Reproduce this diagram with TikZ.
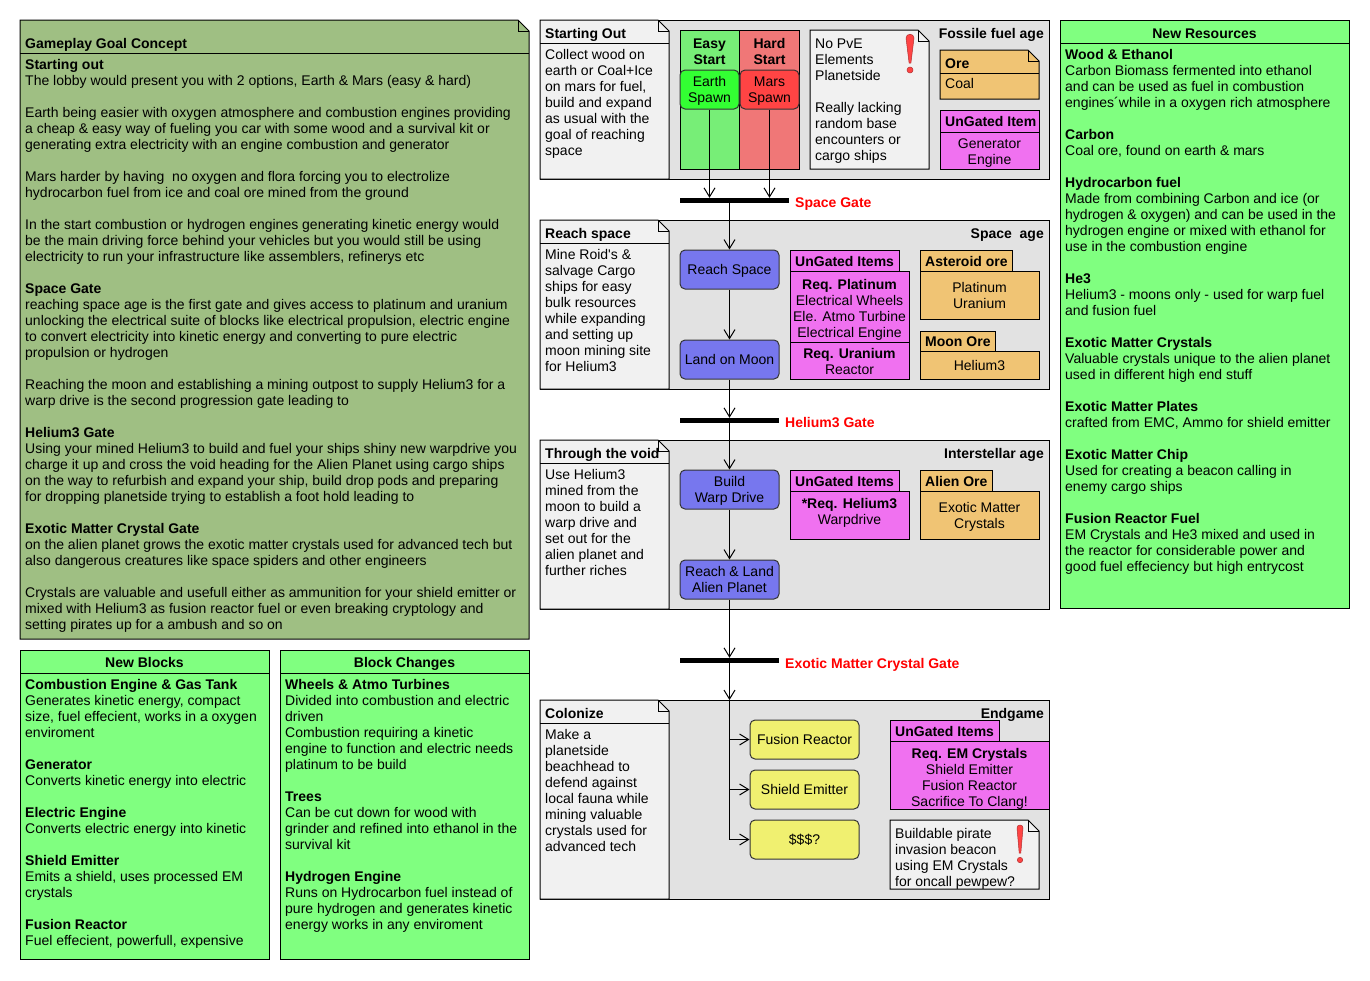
\documentclass[tikz,border=0pt]{standalone}
\usepackage{tikz}
\usepackage{xcolor}
\usepackage{fontspec}
\setmainfont{Liberation Sans}
\usetikzlibrary{arrows.meta}
\definecolor{sage}{HTML}{9FBF83}
\definecolor{mint}{HTML}{80FF80}
\definecolor{lanegray}{HTML}{E2E2E2}
\definecolor{notegray}{HTML}{F1F1F1}
\definecolor{easygreen}{HTML}{77EE77}
\definecolor{spawngreen}{HTML}{33FF33}
\definecolor{hardred}{HTML}{F07777}
\definecolor{spawnred}{HTML}{FF4444}
\definecolor{actblue}{HTML}{7777EE}
\definecolor{itempink}{HTML}{F071F0}
\definecolor{oreorange}{HTML}{F0C474}
\definecolor{endyellow}{HTML}{F0F070}
\definecolor{gatered}{HTML}{FF0000}
\definecolor{bangred}{HTML}{FF4444}
\newcommand{\txtblock}[2][l]{\begin{tabular}[t]{@{}#1@{}}#2\end{tabular}}
\begin{document}
\begin{tikzpicture}[x=1pt,y=-1pt,
  box/.style={draw,line width=1pt},
  act/.style={draw=black!80,line width=1pt,rounded corners=5pt,align=center,minimum width=99pt,minimum height=39pt,text depth=0pt},
  flow/.style={line width=1pt,-{Straight Barb[length=9pt,width=11pt]}},
  gate/.style={fill=black,minimum width=99pt,minimum height=5pt},
  gatelabel/.style={anchor=base west,text=gatered,font=\fontsize{14}{16}\selectfont\bfseries},
  txt/.style={anchor=base west},
  bang/.style={fill=bangred,draw=bangred!70!black,line width=0.5pt} ]
    \tikzstyle{every node}+=[inner sep=0pt,font=\fontsize{14}{16}\selectfont]
    \fill [white] (0,0) rectangle (1370,980);
    \useasboundingbox (0,0) rectangle (1370,980);
    \draw [box,fill=sage] (20,20) -- (518,20) -- (529,31) -- (529,639) -- (20,639) -- cycle;
    \draw [box] (518,20) -- (518,31) -- (529,31);
    \draw [box] (20,53) -- (529,53);
    \node [txt] (gptitle) at (25,48) {\textbf{Gameplay Goal Concept}};
    \node [txt] (gpbody) at (25,69) {\txtblock{\textbf{Starting out}\\
      The lobby would present you with 2 options, Earth \& Mars (easy \& hard)\\
      \\
      Earth being easier with oxygen atmosphere and combustion engines providing\\
      a cheap \& easy way of fueling you car with some wood and a survival kit or\\
      generating extra electricity with an engine combustion and generator\\
      \\
      Mars harder by having\ \ no oxygen and flora forcing you to electrolize\\
      hydrocarbon fuel from ice and coal ore mined from the ground\\
      \\
      In the start combustion or hydrogen engines generating kinetic energy would\\
      be the main driving force behind your vehicles but you would still be using\\
      electricity to run your infrastructure like assemblers, refinerys etc\\
      \\
      \textbf{Space Gate}\\
      reaching space age is the first gate and gives access to platinum and uranium\\
      unlocking the electrical suite of blocks like electrical propulsion, electric engine\\
      to convert electricity into kinetic energy and converting to pure electric\\
      propulsion or hydrogen\\
      \\
      Reaching the moon and establishing a mining outpost to supply Helium3 for a\\
      warp drive is the second progression gate leading to\\
      \\
      \textbf{Helium3 Gate}\\
      Using your mined Helium3 to build and fuel your ships shiny new warpdrive you\\
      charge it up and cross the void heading for the Alien Planet using cargo ships\\
      on the way to refurbish and expand your ship, build drop pods and preparing\\
      for dropping planetside trying to establish a foot hold leading to\\
      \\
      \textbf{Exotic Matter Crystal Gate}\\
      on the alien planet grows the exotic matter crystals used for advanced tech but\\
      also dangerous creatures like space spiders and other engineers\\
      \\
      Crystals are valuable and usefull either as ammunition for your shield emitter or\\
      mixed with Helium3 as fusion reactor fuel or even breaking cryptology and\\
      setting pirates up for a ambush and so on}};
    \draw [box,fill=mint] (20,650) rectangle (269,959);
    \draw [box] (20,673) -- (269,673);
    \node [anchor=base] (nbtitle) at (144.5,667) {\textbf{New Blocks}};
    \node [txt] (nbbody) at (25,689) {\txtblock{\textbf{Combustion Engine \& Gas Tank}\\
      Generates kinetic energy, compact\\
      size, fuel effecient, works in a oxygen\\
      enviroment\\
      \\
      \textbf{Generator}\\
      Converts kinetic energy into electric\\
      \\
      \textbf{Electric Engine}\\
      Converts electric energy into kinetic\\
      \\
      \textbf{Shield Emitter}\\
      Emits a shield, uses processed EM\\
      crystals\\
      \\
      \textbf{Fusion Reactor}\\
      Fuel effecient, powerfull, expensive}};
    \draw [box,fill=mint] (280,650) rectangle (529,959);
    \draw [box] (280,673) -- (529,673);
    \node [anchor=base] (bctitle) at (404.5,667) {\textbf{Block Changes}};
    \node [txt] (bcbody) at (285,689) {\txtblock{\textbf{Wheels \& Atmo Turbines}\\
      Divided into combustion and electric\\
      driven\\
      Combustion requiring a kinetic\\
      engine to function and electric needs\\
      platinum to be build\\
      \\
      \textbf{Trees}\\
      Can be cut down for wood with\\
      grinder and refined into ethanol in the\\
      survival kit\\
      \\
      \textbf{Hydrogen Engine}\\
      Runs on Hydrocarbon fuel instead of\\
      pure hydrogen and generates kinetic\\
      energy works in any enviroment}};
    \draw [box,fill=mint] (1060,20) rectangle (1349,608);
    \draw [box] (1060,43) -- (1349,43);
    \node [anchor=base] (nrtitle) at (1204.5,38) {\textbf{New Resources}};
    \node [txt] (nrbody) at (1065,59) {\txtblock{\textbf{Wood \& Ethanol}\\
      Carbon Biomass fermented into ethanol\\
      and can be used as fuel in combustion\\
      engines´while in a oxygen rich atmosphere\\
      \\
      \textbf{Carbon}\\
      Coal ore, found on earth \& mars\\
      \\
      \textbf{Hydrocarbon fuel}\\
      Made from combining Carbon and ice (or\\
      hydrogen \& oxygen) and can be used in the\\
      hydrogen engine or mixed with ethanol for\\
      use in the combustion engine\\
      \\
      \textbf{He3}\\
      Helium3 - moons only - used for warp fuel\\
      and fusion fuel\\
      \\
      \textbf{Exotic Matter Crystals}\\
      Valuable crystals unique to the alien planet\\
      used in different high end stuff\\
      \\
      \textbf{Exotic Matter Plates}\\
      crafted from EMC, Ammo for shield emitter\\
      \\
      \textbf{Exotic Matter Chip}\\
      Used for creating a beacon calling in\\
      enemy cargo ships\\
      \\
      \textbf{Fusion Reactor Fuel}\\
      EM Crystals and He3 mixed and used in\\
      the reactor for considerable power and\\
      good fuel effeciency but high entrycost}};
    \draw [box,fill=lanegray] (540,20) rectangle (1049,179);
    \node [anchor=base east] (lane1) at (1044,38) {\textbf{Fossile fuel age}};
    \draw [box,fill=notegray] (540,20) -- (658,20) -- (669,31) -- (669,179) -- (540,179) -- cycle;
    \draw [box] (658,20) -- (658,31) -- (669,31);
    \draw [box] (540,43) -- (669,43);
    \node [txt] (n1title) at (545,38) {\textbf{Starting Out}};
    \node [txt] (n1body) at (545,59) {\txtblock{Collect wood on\\earth or Coal+Ice\\on mars for fuel,\\build and expand\\as usual with the\\goal of reaching\\space}};
    \draw [box,fill=easygreen] (680,30) rectangle (739,169);
    \draw [box,fill=hardred] (739,30) rectangle (799,169);
    \node [anchor=base] (easy) at (709.5,48) {\txtblock[c]{\textbf{Easy}\\\textbf{Start}}};
    \node [anchor=base] (hard) at (769.5,48) {\txtblock[c]{\textbf{Hard}\\\textbf{Start}}};
    \node [act,fill=spawngreen,minimum width=59pt] (earth) at (709.5,89.5) {Earth\\Spawn};
    \node [act,fill=spawnred,minimum width=59pt] (mars) at (769.5,89.5) {Mars\\Spawn};
    \draw [box,fill=notegray] (810,30) -- (918,30) -- (929,41) -- (929,169) -- (810,169) -- cycle;
    \draw [box] (918,30) -- (918,41) -- (929,41);
    \node [txt] (pve) at (815,48) {\txtblock{No PvE\\Elements\\Planetside\\ \\Really lacking\\random base\\encounters or\\cargo ships}};
    \draw [bang] (906,38) .. controls (906,33) and (914,33) .. (914,38) -- (910.9,63) -- (909.1,63) -- cycle;
    \draw [bang] (910,70) circle (3);
    \draw [box,fill=oreorange] (940,50) -- (1028,50) -- (1039,61) -- (1039,99) -- (940,99) -- cycle;
    \draw [box] (1028,50) -- (1028,61) -- (1039,61);
    \draw [box] (940,73) -- (1039,73);
    \node [txt] (oretitle) at (945,68) {\textbf{Ore}};
    \node [txt] (coal) at (945,88) {Coal};
    \draw [box,fill=itempink] (940,110) rectangle (1039,169);
    \draw [box] (940,132) -- (1039,132);
    \node [txt] (ug1title) at (945,126) {\textbf{UnGated Item}};
    \node [anchor=base] (ug1body) at (989.5,148) {\txtblock[c]{Generator\\Engine}};
    \node [gate,minimum width=109pt] (sgate) at (734.5,200.5) {};
    \node [gatelabel] (sgatelbl) at (795,207) {Space Gate};
    \draw [box,fill=lanegray] (540,220) rectangle (1049,389);
    \node [anchor=base east] (lane2) at (1044,238) {\textbf{Space\ \ age}};
    \draw [box,fill=notegray] (540,220) -- (658,220) -- (669,231) -- (669,389) -- (540,389) -- cycle;
    \draw [box] (658,220) -- (658,231) -- (669,231);
    \draw [box] (540,243) -- (669,243);
    \node [txt] (n2title) at (545,238) {\textbf{Reach space}};
    \node [txt] (n2body) at (545,259) {\txtblock{Mine Roid\textquotesingle s \&\\salvage Cargo\\ships for easy\\bulk resources\\while expanding\\and setting up\\moon mining site\\for Helium3}};
    \node [act,fill=actblue] (reach) at (729.5,269.5) {Reach Space};
    \node [act,fill=actblue] (moon) at (729.5,359.5) {Land on Moon};
    \draw [box,fill=itempink] (790,250) rectangle (899,271);
    \draw [box,fill=itempink] (790,271) rectangle (909,379);
    \draw [box] (790,342) -- (909,342);
    \node [txt] (ug2title) at (795,266) {\textbf{UnGated Items}};
    \node [anchor=base] (ug2plat) at (849.5,289) {\txtblock[c]{\textbf{Req. Platinum}\\Electrical Wheels\\Ele. Atmo Turbine\\Electrical Engine}};
    \node [anchor=base] (ug2uran) at (849.5,358) {\txtblock[c]{\textbf{Req. Uranium}\\Reactor}};
    \draw [box,fill=oreorange] (920,250) rectangle (1012,271);
    \draw [box,fill=oreorange] (920,271) rectangle (1039,319);
    \node [txt] (asttitle) at (925,266) {\textbf{Asteroid ore}};
    \node [anchor=base] (astbody) at (979.5,292) {\txtblock[c]{Platinum\\Uranium}};
    \draw [box,fill=oreorange] (920,331) rectangle (995,351);
    \draw [box,fill=oreorange] (920,351) rectangle (1039,379);
    \node [txt] (moontitle) at (925,346) {\textbf{Moon Ore}};
    \node [anchor=base] (moonbody) at (979.5,370) {Helium3};
    \node [gate] (hgate) at (729.5,420.5) {};
    \node [gatelabel] (hgatelbl) at (785,427) {Helium3 Gate};
    \draw [box,fill=lanegray] (540,440) rectangle (1049,609);
    \node [anchor=base east] (lane3) at (1044,458) {\textbf{Interstellar age}};
    \draw [box,fill=notegray] (540,440) -- (658,440) -- (669,451) -- (669,609) -- (540,609) -- cycle;
    \draw [box] (658,440) -- (658,451) -- (669,451);
    \draw [box] (540,463) -- (669,463);
    \node [txt] (n3title) at (545,458) {\textbf{Through the void}};
    \node [txt] (n3body) at (545,479) {\txtblock{Use Helium3\\mined from the\\moon to build a\\warp drive and\\set out for the\\alien planet and\\further riches}};
    \node [act,fill=actblue] (warp) at (729.5,489.5) {Build\\Warp Drive};
    \node [act,fill=actblue] (alien) at (729.5,579.5) {Reach \& Land\\Alien Planet};
    \draw [box,fill=itempink] (790,470) rectangle (899,491);
    \draw [box,fill=itempink] (790,491) rectangle (909,539);
    \node [txt] (ug3title) at (795,486) {\textbf{UnGated Items}};
    \node [anchor=base] (ug3body) at (849.5,508) {\txtblock[c]{\textbf{*Req. Helium3}\\Warpdrive}};
    \draw [box,fill=oreorange] (920,470) rectangle (992,491);
    \draw [box,fill=oreorange] (920,491) rectangle (1039,539);
    \node [txt] (alientitle) at (925,486) {\textbf{Alien Ore}};
    \node [anchor=base] (alienbody) at (979.5,512) {\txtblock[c]{Exotic Matter\\Crystals}};
    \node [gate] (egate) at (729.5,660.5) {};
    \node [gatelabel] (egatelbl) at (785,668) {Exotic Matter Crystal Gate};
    \draw [box,fill=lanegray] (540,700) rectangle (1049,899);
    \node [anchor=base east] (lane4) at (1044,718) {\textbf{Endgame}};
    \draw [box,fill=notegray] (540,700) -- (658,700) -- (669,711) -- (669,899) -- (540,899) -- cycle;
    \draw [box] (658,700) -- (658,711) -- (669,711);
    \draw [box] (540,723) -- (669,723);
    \node [txt] (n4title) at (545,718) {\textbf{Colonize}};
    \node [txt] (n4body) at (545,739) {\txtblock{Make a\\planetside\\beachhead to\\defend against\\local fauna while\\mining valuable\\crystals used for\\advanced tech}};
    \node [act,fill=endyellow,minimum width=109pt] (fusion) at (804.5,739.5) {Fusion Reactor};
    \node [act,fill=endyellow,minimum width=109pt] (shield) at (804.5,789.5) {Shield Emitter};
    \node [act,fill=endyellow,minimum width=109pt] (money) at (804.5,839.5) {\$\$\$?};
    \draw [box,fill=itempink] (890,720) rectangle (999,741);
    \draw [box,fill=itempink] (890,741) rectangle (1049,809);
    \node [txt] (ug4title) at (895,736) {\textbf{UnGated Items}};
    \node [anchor=base] (ug4body) at (969.5,758) {\txtblock[c]{\textbf{Req. EM Crystals}\\Shield Emitter\\Fusion Reactor\\Sacrifice To Clang!}};
    \draw [box,fill=notegray] (890,820) -- (1028,820) -- (1039,831) -- (1039,889) -- (890,889) -- cycle;
    \draw [box] (1028,820) -- (1028,831) -- (1039,831);
    \node [txt] (pirate) at (895,838) {\txtblock{Buildable pirate\\invasion beacon\\using EM Crystals\\for oncall pewpew?}};
    \draw [bang] (1017,828) .. controls (1017,824) and (1023,824) .. (1023,828) -- (1020.8,853) -- (1019.2,853) -- cycle;
    \draw [bang] (1020,860) circle (2.7);
    \coordinate (fork) at (729.5,700);
    \draw [flow] (earth.south) -- (earth.south |- sgate.north);
    \draw [flow] (mars.south) -- (mars.south |- sgate.north);
    \draw [flow] (sgate.south -| reach.north) -- (reach.north);
    \draw [flow] (reach) -- (moon);
    \draw [flow] (moon) -- (hgate);
    \draw [flow] (hgate) -- (warp);
    \draw [flow] (warp) -- (alien);
    \draw [flow] (alien) -- (egate);
    \draw [flow] (egate) -- (fork);
    \draw [line width=1pt] (fork) -- (fork |- money.west);
    \draw [flow] (fork |- fusion.west) -- (fusion.west);
    \draw [flow] (fork |- shield.west) -- (shield.west);
    \draw [flow] (fork |- money.west) -- (money.west);
\end{tikzpicture}
\end{document}
